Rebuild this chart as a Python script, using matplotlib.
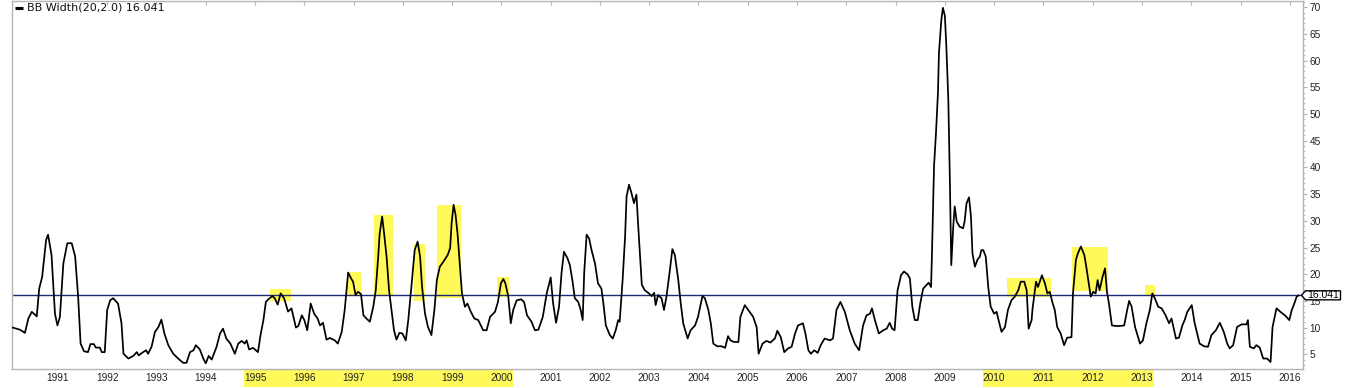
import matplotlib
matplotlib.use("Agg")
import matplotlib.pyplot as plt
from matplotlib.patches import Rectangle, Polygon
from matplotlib.ticker import MultipleLocator
import matplotlib.transforms as mtransforms

# ---- data (decimal year, BB width) ----
years = [
    1990.08, 1990.23, 1990.33, 1990.40, 1990.47, 1990.57, 1990.62, 1990.68, 1990.76, 1990.80,
    1990.87, 1990.94, 1990.99, 1991.04, 1991.11, 1991.19, 1991.28, 1991.35, 1991.41, 1991.46,
    1991.53, 1991.61, 1991.66, 1991.73, 1991.77, 1991.85, 1991.89, 1991.95, 1992.00, 1992.06,
    1992.12, 1992.22, 1992.29, 1992.33, 1992.43, 1992.53, 1992.60, 1992.64, 1992.73, 1992.79,
    1992.83, 1992.90, 1992.97, 1993.04, 1993.10, 1993.16, 1993.24, 1993.34, 1993.44, 1993.54,
    1993.61, 1993.68, 1993.75, 1993.80, 1993.88, 1993.95, 1994.00, 1994.06, 1994.12, 1994.22,
    1994.29, 1994.35, 1994.42, 1994.50, 1994.59, 1994.66, 1994.73, 1994.79, 1994.83, 1994.88,
    1994.96, 1995.06, 1995.11, 1995.17, 1995.22, 1995.27, 1995.35, 1995.40, 1995.46, 1995.52,
    1995.59, 1995.67, 1995.74, 1995.83, 1995.88, 1995.95, 1996.00, 1996.06, 1996.13, 1996.20,
    1996.27, 1996.32, 1996.38, 1996.45, 1996.52, 1996.62, 1996.68, 1996.76, 1996.82, 1996.89,
    1996.95, 1996.99, 1997.04, 1997.09, 1997.15, 1997.20, 1997.26, 1997.33, 1997.40, 1997.45,
    1997.50, 1997.53, 1997.58, 1997.62, 1997.67, 1997.72, 1997.77, 1997.82, 1997.87, 1997.93,
    1997.99, 1998.06, 1998.11, 1998.18, 1998.24, 1998.30, 1998.35, 1998.39, 1998.45, 1998.51,
    1998.58, 1998.64, 1998.69, 1998.75, 1998.82, 1998.91, 1998.96, 1998.99, 1999.03, 1999.07,
    1999.11, 1999.16, 1999.20, 1999.26, 1999.31, 1999.38, 1999.45, 1999.53, 1999.63, 1999.70,
    1999.77, 1999.87, 1999.93, 1999.99, 2000.04, 2000.08, 2000.14, 2000.19, 2000.24, 2000.31,
    2000.40, 2000.46, 2000.52, 2000.61, 2000.68, 2000.75, 2000.84, 2000.92, 2001.00, 2001.05,
    2001.11, 2001.17, 2001.22, 2001.27, 2001.34, 2001.39, 2001.44, 2001.49, 2001.56, 2001.61,
    2001.65, 2001.68, 2001.73, 2001.78, 2001.83, 2001.90, 2001.96, 2002.03, 2002.07, 2002.12,
    2002.20, 2002.26, 2002.32, 2002.37, 2002.40, 2002.46, 2002.51, 2002.54, 2002.59, 2002.64,
    2002.69, 2002.74, 2002.79, 2002.85, 2002.91, 2002.98, 2003.05, 2003.10, 2003.13, 2003.18,
    2003.25, 2003.30, 2003.35, 2003.42, 2003.47, 2003.52, 2003.59, 2003.64, 2003.69, 2003.78,
    2003.84, 2003.93, 2003.99, 2004.08, 2004.13, 2004.20, 2004.25, 2004.30, 2004.38, 2004.47,
    2004.54, 2004.60, 2004.65, 2004.72, 2004.81, 2004.85, 2004.94, 2005.01, 2005.11, 2005.18,
    2005.22, 2005.30, 2005.38, 2005.46, 2005.55, 2005.60, 2005.67, 2005.74, 2005.82, 2005.89,
    2005.96, 2006.02, 2006.12, 2006.17, 2006.23, 2006.28, 2006.35, 2006.42, 2006.48, 2006.56,
    2006.67, 2006.73, 2006.80, 2006.88, 2006.97, 2007.07, 2007.17, 2007.26, 2007.34, 2007.41,
    2007.48, 2007.52, 2007.58, 2007.66, 2007.75, 2007.82, 2007.88, 2007.93, 2007.98, 2008.04,
    2008.11, 2008.17, 2008.24, 2008.29, 2008.34, 2008.39, 2008.45, 2008.50, 2008.56, 2008.63,
    2008.67, 2008.72, 2008.74, 2008.78, 2008.82, 2008.86, 2008.88, 2008.93, 2008.96, 2009.00,
    2009.03, 2009.07, 2009.10, 2009.13, 2009.17, 2009.20, 2009.24, 2009.30, 2009.37, 2009.40,
    2009.44, 2009.49, 2009.53, 2009.56, 2009.61, 2009.66, 2009.71, 2009.74, 2009.78, 2009.83,
    2009.88, 2009.93, 2010.00, 2010.05, 2010.09, 2010.15, 2010.22, 2010.28, 2010.35, 2010.42,
    2010.49, 2010.54, 2010.61, 2010.66, 2010.70, 2010.76, 2010.78, 2010.85, 2010.89, 2010.97,
    2011.03, 2011.08, 2011.13, 2011.18, 2011.23, 2011.28, 2011.35, 2011.42, 2011.48, 2011.57,
    2011.60, 2011.66, 2011.70, 2011.76, 2011.83, 2011.87, 2011.92, 2011.96, 2012.01, 2012.06,
    2012.10, 2012.14, 2012.20, 2012.25, 2012.29, 2012.33, 2012.39, 2012.47, 2012.55, 2012.64,
    2012.70, 2012.74, 2012.79, 2012.86, 2012.96, 2013.02, 2013.09, 2013.16, 2013.21, 2013.26,
    2013.33, 2013.40, 2013.48, 2013.55, 2013.60, 2013.69, 2013.75, 2013.82, 2013.87, 2013.92,
    2014.01, 2014.07, 2014.17, 2014.26, 2014.34, 2014.41, 2014.50, 2014.58, 2014.66, 2014.73,
    2014.78, 2014.85, 2014.93, 2015.02, 2015.12, 2015.15, 2015.19, 2015.27, 2015.32, 2015.39,
    2015.46, 2015.54, 2015.61, 2015.65, 2015.73, 2015.81, 2015.90, 2015.99, 2016.04, 2016.08,
    2016.14, 2016.18,
]
bb_width = [
    10.0, 9.6, 9.0, 11.7, 12.95, 12.1, 17.3, 19.5, 26.4, 27.4,
    23.6, 12.6, 10.4, 12.0, 22.0, 25.8, 25.8, 23.3, 15.8, 7.0,
    5.56, 5.4, 6.9, 6.9, 6.25, 6.25, 5.4, 5.4, 13.3, 15.1,
    15.5, 14.5, 10.8, 5.1, 4.2, 4.7, 5.4, 4.8, 5.4, 5.75,
    5.1, 6.4, 9.2, 10.1, 11.5, 8.9, 6.7, 5.1, 4.2, 3.4,
    3.4, 5.4, 5.75, 6.7, 5.9, 4.2, 3.3, 4.7, 4.0, 6.4,
    8.9, 9.8, 7.9, 7.0, 5.1, 7.0, 7.5, 7.0, 7.6, 5.9,
    6.2, 5.4, 8.5, 11.4, 14.8, 15.3, 15.9, 15.5, 14.3, 16.4,
    15.5, 13.0, 13.6, 10.0, 10.3, 12.3, 11.4, 9.5, 14.5, 12.6,
    11.7, 10.4, 10.9, 7.75, 8.05, 7.6, 7.0, 9.2, 13.3, 20.3,
    19.2, 18.6, 16.1, 16.7, 16.3, 12.3, 11.7, 11.1, 13.9, 17.0,
    23.3, 27.6, 30.8, 27.6, 23.3, 17.0, 13.3, 9.5, 7.75, 9.0,
    8.9, 7.6, 11.4, 18.3, 24.5, 26.1, 23.3, 17.6, 12.6, 10.1,
    8.6, 13.3, 18.9, 21.4, 22.3, 23.6, 24.9, 29.6, 33.0, 31.1,
    27.6, 21.4, 16.4, 13.9, 14.5, 12.95, 11.7, 11.4, 9.5, 9.5,
    12.0, 12.95, 14.8, 18.3, 19.1, 18.3, 15.8, 10.8, 13.3, 15.1,
    15.3, 14.8, 12.3, 11.1, 9.5, 9.6, 12.0, 16.4, 19.4, 14.5,
    10.9, 13.9, 20.2, 24.2, 23.0, 21.7, 18.9, 15.5, 14.8, 13.3,
    11.4, 20.2, 27.4, 26.7, 24.5, 22.0, 18.3, 17.3, 14.5, 10.4,
    8.6, 7.95, 9.5, 11.4, 11.1, 18.9, 27.0, 34.55, 36.75, 35.2,
    33.3, 34.9, 27.0, 18.0, 17.0, 16.5, 15.9, 16.5, 14.2, 16.1,
    15.5, 13.3, 15.8, 20.8, 24.7, 23.6, 18.9, 14.5, 10.8, 7.95,
    9.5, 10.4, 12.0, 15.9, 15.5, 13.3, 10.8, 7.0, 6.5, 6.5,
    6.2, 8.4, 7.6, 7.3, 7.3, 12.0, 14.2, 13.3, 12.0, 10.1,
    5.1, 7.0, 7.5, 7.2, 7.95, 9.4, 8.2, 5.4, 6.1, 6.4,
    8.9, 10.4, 10.8, 8.9, 5.75, 5.1, 5.75, 5.25, 6.7, 7.95,
    7.6, 7.95, 13.3, 14.8, 12.95, 9.5, 7.0, 5.75, 10.4, 12.3,
    12.6, 13.6, 11.4, 8.9, 9.5, 9.8, 10.9, 9.8, 9.5, 17.0,
    19.8, 20.5, 20.0, 19.2, 13.9, 11.4, 11.4, 14.5, 17.3, 18.0,
    18.4, 17.6, 24.5, 40.2, 46.5, 54.0, 61.5, 67.75, 69.9, 68.4,
    62.7, 52.7, 38.3, 21.7, 28.9, 32.7, 29.85, 28.9, 28.6, 29.85,
    33.3, 34.4, 30.8, 23.9, 21.4, 22.7, 23.3, 24.5, 24.5, 23.3,
    17.6, 13.9, 12.6, 12.95, 11.4, 9.2, 10.1, 13.3, 15.1, 15.8,
    17.0, 18.6, 18.6, 17.0, 9.8, 11.4, 13.6, 18.6, 17.6, 19.8,
    18.3, 16.4, 16.7, 14.8, 13.3, 10.1, 8.9, 6.7, 8.1, 8.2,
    16.4, 22.7, 23.9, 25.2, 23.6, 21.4, 18.3, 15.8, 16.7, 16.4,
    18.9, 17.0, 19.5, 21.1, 16.7, 14.5, 10.4, 10.3, 10.3, 10.4,
    13.3, 15.0, 13.9, 10.1, 7.0, 7.6, 10.8, 13.3, 16.4, 15.5,
    13.9, 13.6, 12.3, 10.8, 11.7, 7.95, 8.1, 10.4, 11.5, 12.95,
    14.2, 10.8, 7.0, 6.5, 6.4, 8.6, 9.5, 10.9, 9.2, 7.0,
    6.1, 6.7, 10.1, 10.6, 10.6, 11.4, 6.4, 6.1, 6.7, 6.25,
    4.2, 4.2, 3.55, 10.1, 13.6, 12.95, 12.3, 11.4, 13.3, 14.2,
    15.8, 16.041,
]
last_value = 16.041
legend_label = "BB Width(20,2.0)"

# highlighted periods on the chart (start year, end year, low, high)
hl_start = [1995.30, 1996.86, 1997.42, 1998.23, 1998.70, 1999.92, 2010.26, 2011.58, 2013.06]
hl_end   = [1995.73, 1997.15, 1997.81, 1998.45, 1999.18, 2000.15, 2011.16, 2012.31, 2013.27]
hl_low   = [14.96, 16.04, 16.04, 14.96, 15.6, 15.76, 15.76, 16.8, 16.0]
hl_high  = [17.2, 20.4, 31.0, 25.6, 33.0, 19.5, 19.3, 25.04, 18.0]

# highlighted year labels on the axis (first label, last label)
label_hl_first = [1995, 2010]
label_hl_last = [2000, 2013]

tick_years = list(range(1991, 2017))
tick_labels = [str(y) for y in tick_years]
y_ticks = list(range(5, 71, 5))

# ---- figure ----
W, H = 1356, 388
fig = plt.figure(figsize=(W / 100, H / 100), dpi=100)
fig.patch.set_facecolor("white")
ax = fig.add_axes([12 / W, 1 - 369 / H, (1302.5 - 12) / W, (369 - 0.5) / H])

YELLOW = "#fff95a"
GRAY = "#b4b4b4"
NAVY = "#1c2a78"
tick_font = "Liberation Sans"

for x0, x1, y0, y1 in zip(hl_start, hl_end, hl_low, hl_high):
    ax.add_patch(Rectangle((x0, y0), x1 - x0, y1 - y0, facecolor=YELLOW,
                           edgecolor="none", zorder=1))

ax.axhline(last_value, color=NAVY, lw=1.0, zorder=2)
ax.plot(years, bb_width, color="black", lw=1.25, zorder=3, solid_joinstyle="round")

ax.set_xlim(1990.068, 2016.258)
ax.set_ylim(2.24, 71.27)

# x axis
ax.set_xticks(tick_years)
ax.set_xticklabels(tick_labels, fontsize=7.3, family=tick_font, color="#222222")
ax.tick_params(axis="x", top=True, bottom=False, labeltop=False, labelbottom=True,
               direction="in", length=3, color=GRAY, pad=3)

# y axis on the right
ax.yaxis.tick_right()
ax.set_yticks(y_ticks)
ax.set_yticklabels([str(v) for v in y_ticks], fontsize=7.3, family=tick_font, color="#222222")
ax.yaxis.set_minor_locator(MultipleLocator(1))
ax.tick_params(axis="y", which="major", direction="out", length=3, color=GRAY, pad=2)
ax.tick_params(axis="y", which="minor", direction="out", length=1.5, color=GRAY)

for sp in ax.spines.values():
    sp.set_color(GRAY)
    sp.set_linewidth(1.0)

# yellow highlight behind axis year labels
blend = mtransforms.blended_transform_factory(ax.transData, ax.transAxes)
for a, b in zip(label_hl_first, label_hl_last):
    ax.add_patch(Rectangle((a - 0.22, -0.049), (b - a) + 0.46, 0.046, transform=blend,
                           facecolor=YELLOW, edgecolor="none", clip_on=False, zorder=0))

# legend at top-left
ax.plot([0.0023, 0.0088], [0.981, 0.981], transform=ax.transAxes, color="black",
        lw=2.2, solid_capstyle="butt", clip_on=False)
ax.text(0.0115, 0.981, f"{legend_label} {last_value:.3f}", transform=ax.transAxes,
        fontsize=8, family="DejaVu Sans", va="center", ha="left", color="#111111")

# value marker box on right axis
tip_x, tip_y = ax.transData.transform((ax.get_xlim()[1], last_value))
pts = [(tip_x - 1, tip_y), (tip_x + 3, tip_y + 4.5), (tip_x + 38, tip_y + 4.5),
       (tip_x + 38, tip_y - 4.5), (tip_x + 3, tip_y - 4.5)]
fig.add_artist(Polygon(pts, closed=True, facecolor="white", edgecolor="black",
                       lw=1.0, transform=mtransforms.IdentityTransform(), zorder=10))
fig.text((tip_x + 20.5) / W, tip_y / H, f"{last_value:.3f}", fontsize=7.5, family=tick_font,
         ha="center", va="center", color="black", zorder=11)

fig.savefig("out.png", dpi=100, facecolor="white")
